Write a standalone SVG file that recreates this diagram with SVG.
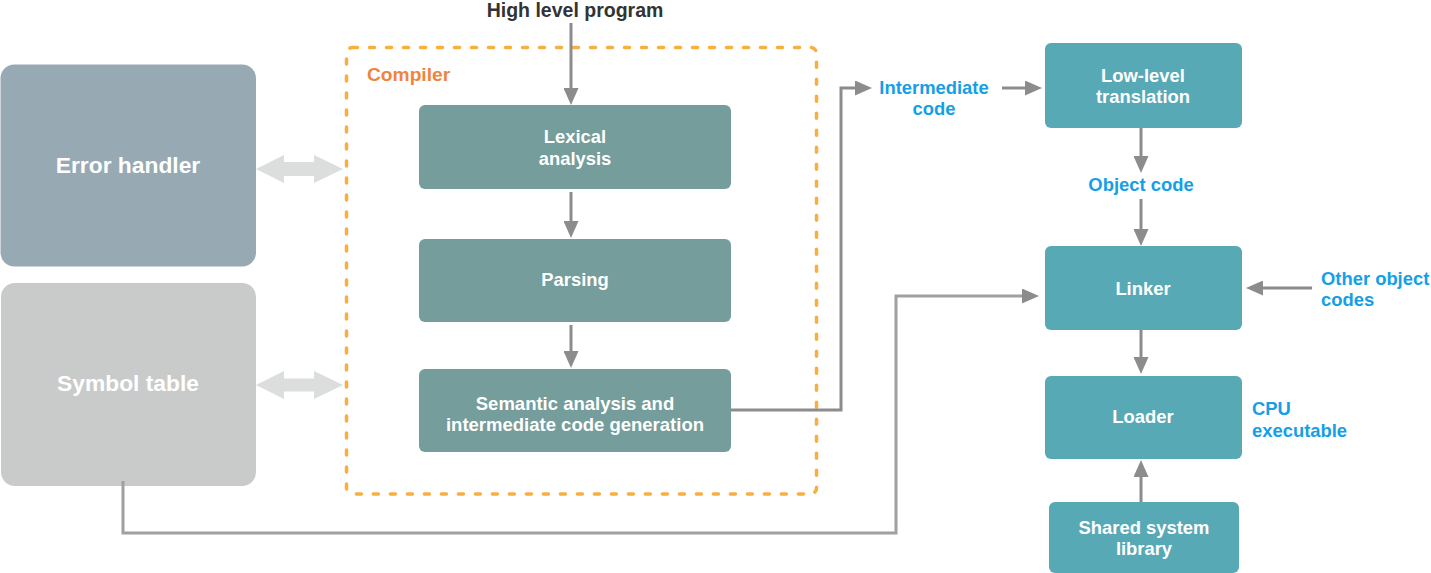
<svg xmlns="http://www.w3.org/2000/svg" width="1431" height="573" viewBox="0 0 1431 573">
<style>
.lbl{font-family:"Liberation Sans",Arial,sans-serif;font-weight:bold;font-size:18.4px;text-anchor:middle}
.w{fill:#ffffff}
.b{fill:#14a0e6}
.big{font-family:"Liberation Sans",Arial,sans-serif;font-weight:bold;font-size:22.8px;fill:#ffffff;text-anchor:middle}
.stage{fill:#749d9b}
.right{fill:#58a9b6}
.conn{fill:none;stroke:#8c8c8c;stroke-width:3}
.dbl{fill:#dcdddd}
</style>
<defs>
<marker id="ah" markerUnits="userSpaceOnUse" markerWidth="17" markerHeight="15" refX="8" refY="7.5" orient="auto">
<path d="M0,0 L17,7.5 L0,15 z" fill="#8c8c8c"/>
</marker>
</defs>
<rect width="1431" height="573" fill="#ffffff"/>

<g id="error-handler">
<rect x="0.5" y="64.5" width="255.5" height="202" rx="14" fill="#97aab4"/>
<text class="big" x="128" y="172.5">Error handler</text>
</g>
<g id="symbol-table">
<rect x="1" y="283" width="255" height="203" rx="14" fill="#c9cbca"/>
<text class="big" x="128" y="391">Symbol table</text>
</g>

<g id="compiler">
<rect x="346.5" y="47.5" width="470" height="446.5" rx="6" fill="none" stroke="#f9ae42" stroke-width="3.5" stroke-dasharray="5 12" stroke-linecap="round"/>
<text class="lbl" x="367" y="81" style="text-anchor:start;fill:#f0843c;font-size:19.2px">Compiler</text>
</g>
<g id="lexical">
<rect class="stage" x="419" y="105" width="312" height="84" rx="6"/>
<text class="lbl w" x="575" y="143">Lexical</text>
<text class="lbl w" x="575" y="165">analysis</text>
</g>
<g id="parsing">
<rect class="stage" x="419" y="239" width="312" height="83" rx="6"/>
<text class="lbl w" x="575" y="286">Parsing</text>
</g>
<g id="semantic">
<rect class="stage" x="419" y="369" width="312" height="83" rx="6"/>
<text class="lbl w" x="575" y="410" style="font-size:18.5px">Semantic analysis and</text>
<text class="lbl w" x="575" y="431" style="font-size:18.5px">intermediate code generation</text>
</g>

<g id="high-level-program">
<text class="lbl" x="575" y="16.5" style="fill:#333333;font-size:19.5px">High level program</text>
</g>
<g id="intermediate-code">
<text class="lbl b" x="934" y="94">Intermediate</text>
<text class="lbl b" x="934" y="115">code</text>
</g>
<g id="low-level">
<rect class="right" x="1045" y="43" width="197" height="85" rx="6"/>
<text class="lbl w" x="1143" y="82">Low-level</text>
<text class="lbl w" x="1143" y="103">translation</text>
</g>
<g id="object-code">
<text class="lbl b" x="1141" y="191">Object code</text>
</g>
<g id="linker">
<rect class="right" x="1045" y="246" width="197" height="84" rx="6"/>
<text class="lbl w" x="1143" y="295">Linker</text>
</g>
<g id="other-object-codes">
<text class="lbl b" x="1321" y="285" style="text-anchor:start">Other object</text>
<text class="lbl b" x="1321" y="306" style="text-anchor:start">codes</text>
</g>
<g id="loader">
<rect class="right" x="1045" y="376" width="197" height="83" rx="6"/>
<text class="lbl w" x="1143" y="423">Loader</text>
</g>
<g id="cpu-executable">
<text class="lbl b" x="1252" y="415" style="text-anchor:start">CPU</text>
<text class="lbl b" x="1252" y="437" style="text-anchor:start">executable</text>
</g>
<g id="shared-library">
<rect class="right" x="1049" y="502" width="190" height="71" rx="6"/>
<text class="lbl w" x="1144" y="534">Shared system</text>
<text class="lbl w" x="1144" y="555">library</text>
</g>

<g id="connectors">
<polygon class="dbl" points="256,169 284,155 284,162 314,162 314,155 343,169 314,183 314,176 284,176 284,183"/>
<polygon class="dbl" points="256,385 284,371 284,378.5 314,378.5 314,371 343,385 314,399 314,391.5 284,391.5 284,399"/>
<line class="conn" x1="571" y1="23" x2="571" y2="96" marker-end="url(#ah)"/>
<line class="conn" x1="571" y1="192" x2="571" y2="229" marker-end="url(#ah)"/>
<line class="conn" x1="571" y1="325" x2="571" y2="359" marker-end="url(#ah)"/>
<polyline class="conn" points="731,410 841,410 841,88 863,88" marker-end="url(#ah)"/>
<line class="conn" x1="1002" y1="88" x2="1033" y2="88" marker-end="url(#ah)"/>
<line class="conn" x1="1141" y1="128" x2="1141" y2="164" marker-end="url(#ah)"/>
<line class="conn" x1="1141" y1="199" x2="1141" y2="237" marker-end="url(#ah)"/>
<line class="conn" x1="1312" y1="288" x2="1255" y2="288" marker-end="url(#ah)"/>
<line class="conn" x1="1141" y1="330" x2="1141" y2="365" marker-end="url(#ah)"/>
<line class="conn" x1="1141" y1="502" x2="1141" y2="469" marker-end="url(#ah)"/>
<polyline class="conn" style="stroke:#a0a0a0" points="123,481 123,533 896,533 896,296 1030,296" marker-end="url(#ah)"/>
</g>
</svg>
